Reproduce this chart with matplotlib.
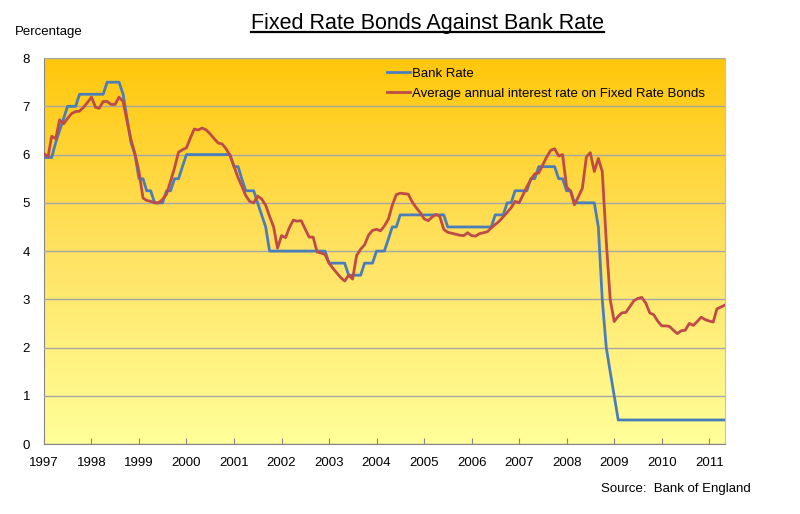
import matplotlib.pyplot as plt
import matplotlib.dates as mdates
import numpy as np
import pandas as pd
from matplotlib.colors import LinearSegmentedColormap
from matplotlib.lines import Line2D

plt.rcParams['font.family'] = ['Liberation Sans', 'DejaVu Sans']

# monthly points, Jan 1997 .. May 2011
months = pd.date_range("1997-01-01", periods=173, freq="MS")

bank_rate = [
    5.94, 5.94, 5.94, 6.25, 6.5, 6.75, 7.0, 7.0, 7.0, 7.25, 7.25, 7.25,
    7.25, 7.25, 7.25, 7.25, 7.5, 7.5, 7.5, 7.5, 7.25, 6.75, 6.25, 6.0,
    5.5, 5.5, 5.25, 5.25, 5.0, 5.0, 5.0, 5.25, 5.25, 5.5, 5.5, 5.75,
    6.0, 6.0, 6.0, 6.0, 6.0, 6.0, 6.0, 6.0, 6.0, 6.0, 6.0, 6.0,
    5.75, 5.75, 5.5, 5.25, 5.25, 5.25, 5.0, 4.75, 4.5, 4.0, 4.0, 4.0,
    4.0, 4.0, 4.0, 4.0, 4.0, 4.0, 4.0, 4.0, 4.0, 4.0, 4.0, 4.0,
    3.75, 3.75, 3.75, 3.75, 3.75, 3.5, 3.5, 3.5, 3.5, 3.75, 3.75, 3.75,
    4.0, 4.0, 4.0, 4.25, 4.5, 4.5, 4.75, 4.75, 4.75, 4.75, 4.75, 4.75,
    4.75, 4.75, 4.75, 4.75, 4.75, 4.75, 4.5, 4.5, 4.5, 4.5, 4.5, 4.5,
    4.5, 4.5, 4.5, 4.5, 4.5, 4.5, 4.75, 4.75, 4.75, 5.0, 5.0, 5.25,
    5.25, 5.25, 5.25, 5.5, 5.5, 5.75, 5.75, 5.75, 5.75, 5.75, 5.5, 5.5,
    5.25, 5.25, 5.0, 5.0, 5.0, 5.0, 5.0, 5.0, 4.5, 3.0, 2.0, 1.5,
    1.0, 0.5, 0.5, 0.5, 0.5, 0.5, 0.5, 0.5, 0.5, 0.5, 0.5, 0.5,
    0.5, 0.5, 0.5, 0.5, 0.5, 0.5, 0.5, 0.5, 0.5, 0.5, 0.5, 0.5,
    0.5, 0.5, 0.5, 0.5, 0.5,
]

fixed_rate_bonds = [
    6.02, 5.95, 6.38, 6.33, 6.72, 6.64, 6.75, 6.85, 6.89, 6.90, 6.98, 7.08,
    7.19, 6.98, 6.96, 7.10, 7.10, 7.04, 7.04, 7.19, 7.10, 6.70, 6.30, 6.02,
    5.65, 5.10, 5.05, 5.03, 5.00, 5.00, 5.07, 5.18, 5.45, 5.72, 6.05, 6.10,
    6.14, 6.35, 6.53, 6.51, 6.55, 6.51, 6.43, 6.33, 6.24, 6.22, 6.12, 5.98,
    5.75, 5.52, 5.35, 5.15, 5.03, 5.00, 5.14, 5.08, 4.95, 4.72, 4.50, 4.06,
    4.32, 4.28, 4.48, 4.64, 4.62, 4.63, 4.46, 4.29, 4.29, 3.98, 3.96, 3.93,
    3.75, 3.64, 3.55, 3.45, 3.38, 3.50, 3.42, 3.91, 4.04, 4.13, 4.33, 4.43,
    4.45, 4.42, 4.52, 4.66, 4.95, 5.17, 5.20, 5.19, 5.18, 5.02, 4.90, 4.80,
    4.67, 4.63, 4.70, 4.76, 4.72, 4.45, 4.39, 4.37, 4.35, 4.33, 4.32, 4.38,
    4.32, 4.31, 4.36, 4.38, 4.40, 4.48, 4.55, 4.62, 4.71, 4.80, 4.90, 5.03,
    5.00, 5.17, 5.33, 5.48, 5.60, 5.62, 5.78, 5.95, 6.09, 6.12, 5.97, 6.00,
    5.33, 5.24, 4.96, 5.13, 5.30, 5.95, 6.04, 5.65, 5.92, 5.65, 4.20, 3.00,
    2.54, 2.65, 2.72, 2.73, 2.85, 2.97, 3.02, 3.04, 2.92, 2.72, 2.68, 2.55,
    2.45, 2.45, 2.44, 2.36, 2.29, 2.35, 2.36, 2.50, 2.46, 2.54, 2.63, 2.58,
    2.55, 2.53, 2.80, 2.84, 2.88,
]

fig = plt.figure(figsize=(8, 5.14), dpi=100)
ax = fig.add_axes([0.055, 0.136, 0.851, 0.751])

# yellow-orange gradient behind the plot
cmap = LinearSegmentedColormap.from_list(
    "bg", [(0.0, "#FFFF99"), (0.5, "#FFE262"), (1.0, "#FFC70A")])
grad = np.linspace(0, 1, 256).reshape(-1, 1)
ax.imshow(grad, extent=[0, 1, 0, 1], transform=ax.transAxes, cmap=cmap,
          origin="lower", aspect="auto", zorder=0)

ax.plot(months, bank_rate, color="#4A7EBB", lw=2.0, label="Bank Rate", zorder=3)
ax.plot(months, fixed_rate_bonds, color="#BE4B48", lw=2.0,
        label="Average annual interest rate on Fixed Rate Bonds", zorder=4)

ax.set_xlim(months[0], months[-1])
ax.set_ylim(0, 8)
ax.set_yticks(range(0, 9))
ax.xaxis.set_major_locator(mdates.YearLocator())
ax.xaxis.set_major_formatter(mdates.DateFormatter("%Y"))

ax.grid(axis="y", color="#A6A6A6", lw=1.0, zorder=1)
ax.set_axisbelow(False)
ax.tick_params(axis="y", length=0, pad=10, labelsize=9.5)
ax.tick_params(axis="x", direction="in", length=4, color="#868686",
               pad=9, labelsize=9.5)
for s in ["left", "bottom"]:
    ax.spines[s].set_color("#868686")
for s in ["top", "right"]:
    ax.spines[s].set_color("#BFBFBF")

ax.legend(loc="upper left", bbox_to_anchor=(0.49, 1.0), frameon=False,
          fontsize=9.5, handlelength=1.75, handletextpad=0.15,
          labelspacing=0.6, borderaxespad=0.3)

title = fig.text(0.534, 0.955, "Fixed Rate Bonds Against Bank Rate",
                 ha="center", va="center", fontsize=15.5)
fig.text(0.018, 0.938, "Percentage", fontsize=9.5, va="center")
fig.text(0.939, 0.049, "Source:  Bank of England", fontsize=9.5,
         ha="right", va="center")

# underline the title
fig.canvas.draw()
bb = title.get_window_extent().transformed(fig.transFigure.inverted())
fig.add_artist(Line2D([bb.x0, bb.x1], [bb.y0 + 0.003, bb.y0 + 0.003],
                      transform=fig.transFigure, color="black", lw=1.6))

plt.savefig("out.png", dpi=100)
